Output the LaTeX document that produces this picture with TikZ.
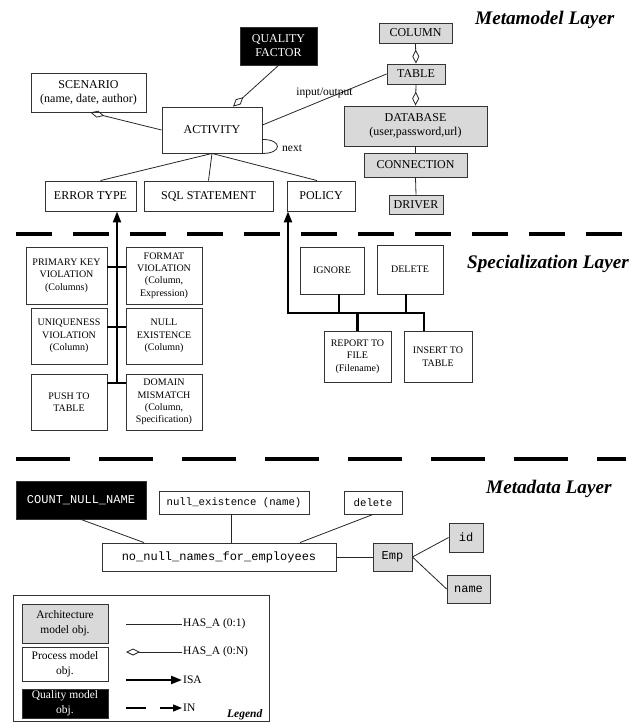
\documentclass[tikz,border=0pt]{standalone}
\usepackage{fontspec}
\setmainfont{Liberation Serif}
\setmonofont{Liberation Mono}
\usetikzlibrary{arrows.meta}

\tikzset{
  box/.style={draw=black!80, line width=0.9pt, inner sep=0pt, align=center,
    font=\fontsize{12}{14}\selectfont},
  small/.style={font=\fontsize{10}{12.4}\selectfont},
  mono/.style={font=\ttfamily\fontsize{12}{14}\selectfont},
  monosmall/.style={font=\ttfamily\fontsize{10.7}{13}\selectfont},
  arch/.style={box, fill=black!15},
  proc/.style={box, fill=white},
  qual/.style={box, fill=black, text=white},
  layertitle/.style={anchor=base west, inner sep=0pt,
    font=\bfseries\itshape\fontsize{19.2}{21}\selectfont},
  hasone/.style={draw=black!85, line width=0.8pt},
  hasmany/.style={hasone, {Diamond[open,length=14pt,width=7pt]}-},
  isaline/.style={draw=black, line width=2.2pt},
  isa/.style={isaline, -{Triangle[length=11pt,width=8pt]}},
  inarrow/.style={draw=black, line width=1.2pt, dash pattern=on 20pt off 14pt,
    -{Triangle[length=9pt,width=7pt]}},
  separator/.style={draw=black, line width=4pt},
  lgtxt/.style={anchor=west, inner sep=0pt, font=\fontsize{11.5}{14}\selectfont},
}

\begin{document}
\begin{tikzpicture}[x=1pt,y=-1pt]
\useasboundingbox (0,0) rectangle (634,724);

% ---------------- Metamodel layer ----------------
\node[qual, minimum width=77pt, minimum height=38pt] (qf) at (278.5,46) {QUALITY\\FACTOR};
\node[proc, minimum width=115pt, minimum height=39pt] (scen) at (88.5,92.5) {SCENARIO\\(name, date, author)};
\node[proc, minimum width=100pt, minimum height=46pt] (act) at (212,130) {ACTIVITY};
\node[proc, minimum width=91pt, minimum height=30pt] (err) at (90.5,196) {ERROR TYPE};
\node[proc, minimum width=129pt, minimum height=30pt] (sql) at (208.5,196) {SQL STATEMENT};
\node[proc, minimum width=68pt, minimum height=30pt] (pol) at (321,196) {POLICY};

\node[arch, minimum width=73pt, minimum height=20pt] (col) at (415.5,33) {COLUMN};
\node[arch, minimum width=58pt, minimum height=20pt] (tab) at (416,74) {TABLE};
\node[arch, minimum width=143pt, minimum height=40pt] (db) at (415.5,126) {DATABASE\\(user,password,url)};
\node[arch, minimum width=103pt, minimum height=24pt] (conn) at (415.5,165) {CONNECTION};
\node[arch, minimum width=54pt, minimum height=19pt] (drv) at (416,204.5) {DRIVER};

\node[layertitle] (t1) at (475,24) {Metamodel Layer};

\draw[hasmany] ([xshift=2pt]scen.south) -- (act.west);
\draw[hasmany] ([xshift=21pt]act.north) -- (qf.south);
\draw[hasone] ([yshift=5pt]act.east) -- node[midway, above, inner sep=1.5pt,
  font=\fontsize{11.5}{13}\selectfont] (io) {input/output} (tab.west);
\draw[hasone] ([yshift=14pt]act.south east) .. controls +(20pt,0pt) and +(20pt,0pt) .. (act.south east);
\node[anchor=west, inner sep=0pt, font=\fontsize{11.5}{13}\selectfont] (nxt) at (282,148) {next};
\draw[hasone] (act.south) -- ([xshift=10pt]err.north);
\draw[hasone] (act.south) -- (sql.north);
\draw[hasone] (act.south) -- ([xshift=-4pt]pol.north);

\draw[hasmany] (tab.north) -- (col.south);
\draw[hasmany] (db.north) -- (tab.south);
\draw[hasone] (db.south) -- (conn.north);
\draw[hasone] (conn.south) -- (drv.north);

% layer separators
\coordinate (s1a) at (16,234);  \coordinate (s1b) at (624,234);
\draw[separator, dash pattern=on 36pt off 21pt] (s1a) -- (s1b);
\coordinate (s2a) at (16,458.5); \coordinate (s2b) at (626,458.5);
\draw[separator, dash pattern=on 54pt off 29pt] (s2a) -- (s2b);

% ---------------- Specialization layer ----------------
\node[proc, small, minimum width=81pt, minimum height=57pt] (pk) at (66.5,275.5) {PRIMARY KEY\\VIOLATION\\(Columns)};
\node[proc, small, minimum width=76pt, minimum height=57pt] (fv) at (164,275.5) {FORMAT\\VIOLATION\\(Column,\\Expression)};
\node[proc, small, minimum width=76pt, minimum height=56pt] (uv) at (69,336) {UNIQUENESS\\VIOLATION\\(Column)};
\node[proc, small, minimum width=76pt, minimum height=56pt] (ne) at (164,336) {NULL\\EXISTENCE\\(Column)};
\node[proc, small, minimum width=76pt, minimum height=56pt] (pt) at (69,402) {PUSH TO\\TABLE};
\node[proc, small, minimum width=76pt, minimum height=56pt] (dm) at (164,402) {DOMAIN\\MISMATCH\\(Column,\\Specification)};

\coordinate (r1) at (117,267);
\coordinate (r2) at (117,327);
\coordinate (r3) at (117,383);
\draw[isaline] (pk.east |- r1) -- (fv.west |- r1);
\draw[isaline] (uv.east |- r2) -- (ne.west |- r2);
\draw[isaline] (pt.east |- r3) -- (dm.west |- r3);
\draw[isa] (r3) -- (r3 |- err.south);

\node[proc, small, minimum width=64pt, minimum height=47pt] (ign) at (332,270.5) {IGNORE};
\node[proc, small, minimum width=66pt, minimum height=49pt] (del) at (410,269.5) {DELETE};
\node[proc, small, minimum width=67pt, minimum height=51pt] (rep) at (357.5,356.5) {REPORT TO\\FILE\\(Filename)};
\node[proc, small, minimum width=68pt, minimum height=51pt] (ins) at (438,356.5) {INSERT TO\\TABLE};

\coordinate (j) at (288,313);
\draw[isaline] ([xshift=7pt]ign.south) -- ([xshift=7pt]ign.south |- j);
\draw[isaline] ([xshift=-4pt]del.south) -- ([xshift=-4pt]del.south |- j);
\draw[isaline] (rep.north) -- (rep.north |- j);
\draw[isa] ([xshift=-14pt]ins.north) |- (j) -- (j |- pol.south);

\node[layertitle] (t2) at (467,268) {Specialization Layer};

% ---------------- Metadata layer ----------------
\node[qual, mono, minimum width=130pt, minimum height=38pt] (cnn) at (81,500) {COUNT\_NULL\_NAME};
\node[proc, monosmall, minimum width=150pt, minimum height=23pt] (nex) at (234,502.5) {null\_existence (name)};
\node[proc, mono, minimum width=234pt, minimum height=28pt] (nnn) at (219,557) {no\_null\_names\_for\_employees};
\node[proc, monosmall, minimum width=58pt, minimum height=23pt] (dlt) at (373,502.5) {delete};
\node[arch, mono, minimum width=39pt, minimum height=28pt] (emp) at (392.5,557) {Emp};
\node[arch, mono, minimum width=34pt, minimum height=29pt] (id) at (466,537.5) {id};
\node[arch, mono, minimum width=43pt, minimum height=28pt] (nm) at (468.5,589) {name};

\draw[hasone] (cnn.south) -- ([xshift=-75pt]nnn.north);
\draw[hasone] ([xshift=-3pt]nex.south) -- ([xshift=-3pt]nex.south |- nnn.north);
\draw[hasone] (dlt.south) -- ([xshift=81pt]nnn.north);
\draw[hasone] (nnn.east) -- (emp.west);
\draw[hasone] (emp.east) -- (id.west);
\draw[hasone] (emp.east) -- (nm.west);

\node[layertitle] (t3) at (486,493) {Metadata Layer};

% ---------------- Legend ----------------
\node[draw=black!80, line width=0.9pt, minimum width=256pt, minimum height=126pt, inner sep=0pt] (lg) at (141,658) {};
\node[arch, font=\fontsize{11.5}{15}\selectfont, minimum width=86pt, minimum height=39pt] (la) at (65,623.5) {Architecture\\model obj.};
\node[proc, font=\fontsize{11.5}{15}\selectfont, minimum width=86pt, minimum height=34pt] (lp) at (65,664) {Process model\\obj.};
\node[qual, font=\fontsize{11.5}{15}\selectfont, minimum width=86pt, minimum height=29pt] (lq) at (65,703.5) {Quality model\\obj.};

\node[lgtxt] (h1) at (183,624) {HAS\_A (0:1)};
\node[lgtxt] (h2) at (183,652) {HAS\_A (0:N)};
\node[lgtxt] (h3) at (183,680) {ISA};
\node[lgtxt] (h4) at (183,708) {IN};
\coordinate (h1s) at (126,624);
\coordinate (h2s) at (126,652);
\coordinate (h3s) at (126,680);
\coordinate (h4s) at (126,708);
\draw[hasone] (h1s) -- ([xshift=-1pt]h1.west);
\draw[hasmany] (h2s) -- ([xshift=-1pt]h2.west);
\draw[isa] (h3s) -- ([xshift=-1pt]h3.west);
\draw[inarrow] (h4s) -- ([xshift=-1pt]h4.west);

\node[anchor=base west, inner sep=0pt, font=\bfseries\itshape\fontsize{11.5}{13}\selectfont] (lgt) at (227,717) {Legend};

\end{tikzpicture}
\end{document}
